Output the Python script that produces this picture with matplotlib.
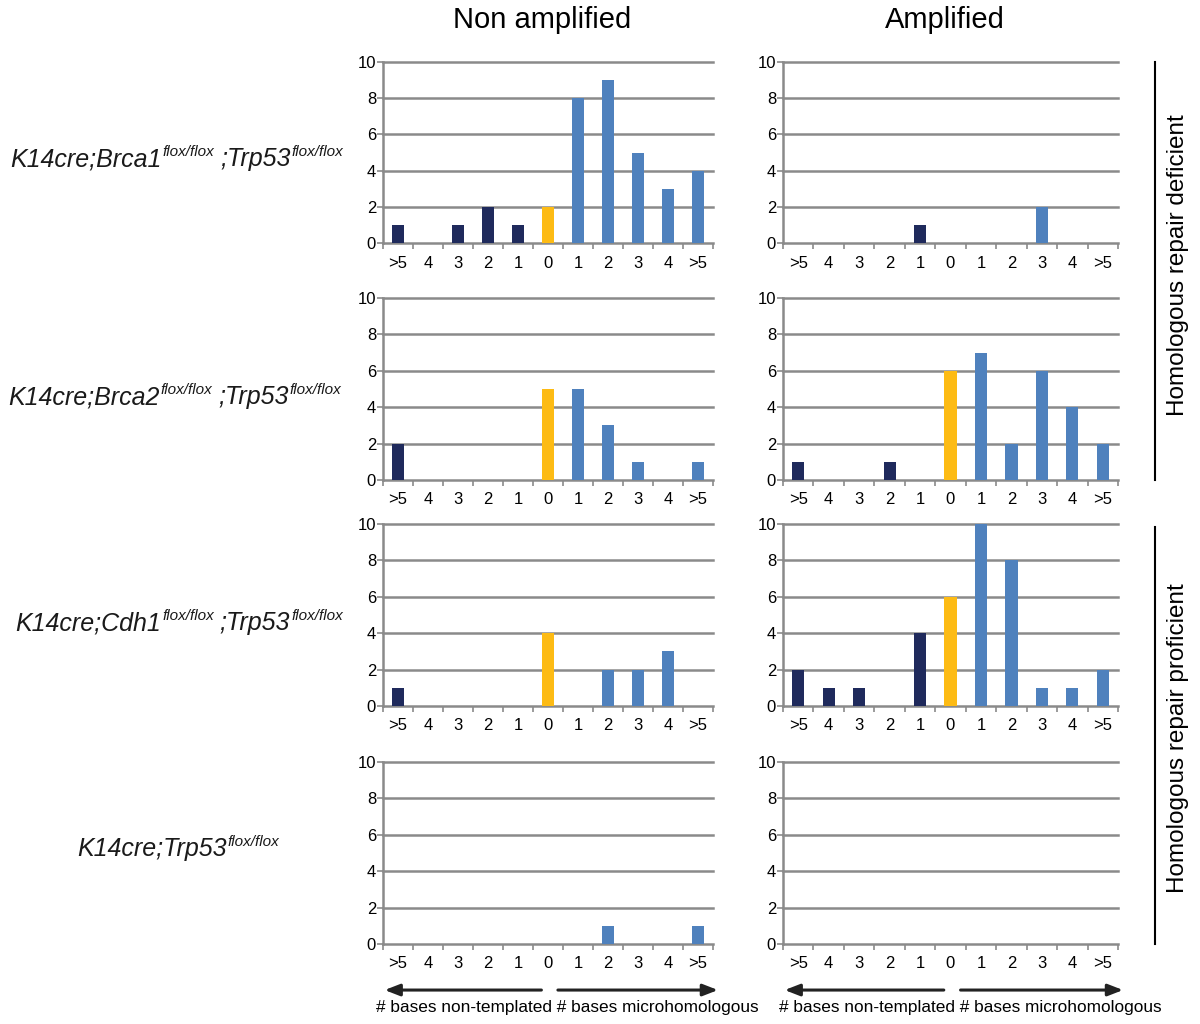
import matplotlib
matplotlib.use("Agg")
import matplotlib.pyplot as plt
from matplotlib.lines import Line2D
from matplotlib.text import Annotation
import numpy as np

plt.rcParams['font.family'] = ['Liberation Sans', 'DejaVu Sans']

categories = [">5", "4", "3", "2", "1", "0", "1", "2", "3", "4", ">5"]
cat_type = ["nt"] * 5 + ["zero"] + ["mh"] * 5

brca1_non = [1, 0, 1, 2, 1, 2, 8, 9, 5, 3, 4]
brca1_amp = [0, 0, 0, 0, 1, 0, 0, 0, 2, 0, 0]
brca2_non = [2, 0, 0, 0, 0, 5, 5, 3, 1, 0, 1]
brca2_amp = [1, 0, 0, 1, 0, 6, 7, 2, 6, 4, 2]
cdh1_non = [1, 0, 0, 0, 0, 4, 0, 2, 2, 3, 0]
cdh1_amp = [2, 1, 1, 0, 4, 6, 10, 8, 1, 1, 2]
trp53_non = [0, 0, 0, 0, 0, 0, 0, 1, 0, 0, 1]
trp53_amp = [0, 0, 0, 0, 0, 0, 0, 0, 0, 0, 0]

# Row labels as (text, is_superscript) pieces
row_labels = [
    [("K14cre;Brca1", False), ("flox/flox", True), (";Trp53", False), ("flox/flox", True)],
    [("K14cre;Brca2", False), ("flox/flox", True), (";Trp53", False), ("flox/flox", True)],
    [("K14cre;Cdh1", False), ("flox/flox", True), (";Trp53", False), ("flox/flox", True)],
    [("K14cre;Trp53", False), ("flox/flox", True)],
]
col_titles = ["Non amplified", "Amplified"]
group_labels = ["Homologous repair deficient", "Homologous repair proficient"]
yticks = [0, 2, 4, 6, 8, 10]

data = [[brca1_non, brca1_amp], [brca2_non, brca2_amp],
        [cdh1_non, cdh1_amp], [trp53_non, trp53_amp]]

colors = {"nt": "#1f2a5c", "zero": "#fdbb14", "mh": "#4f81bd"}
grid_c = "#8a8a8a"

W, H = 1200, 1024
fig = plt.figure(figsize=(W / 100, H / 100), dpi=100)

col_x = [(383, 713), (783, 1118)]
row_y = [(62, 243), (298, 480), (524, 706), (762, 944)]
label_y = [166, 404, 630, 856]   # baselines (px from top)
label_x = [10, 8, 15, 77]        # left edges (px)

x = np.arange(len(categories))
axes = {}
for r, (yt, yb) in enumerate(row_y):
    for c, (xl, xr) in enumerate(col_x):
        ax = fig.add_axes([xl / W, 1 - yb / H, (xr - xl) / W, (yb - yt) / H])
        axes[(r, c)] = ax
        vals = data[r][c]
        ax.bar(x, vals, width=0.4, color=[colors[t] for t in cat_type], zorder=3)
        ax.set_xlim(-0.5, len(categories) - 0.5)
        ax.set_ylim(0, 10)
        for v in yticks[1:]:
            ax.axhline(v, color=grid_c, lw=1.8, zorder=1, clip_on=False)
        for s in ["top", "right"]:
            ax.spines[s].set_visible(False)
        for s in ["left", "bottom"]:
            ax.spines[s].set_color(grid_c)
            ax.spines[s].set_linewidth(1.8)
        ax.set_yticks(yticks)
        ax.set_yticklabels([str(v) for v in yticks], fontsize=12)
        ax.tick_params(axis="y", length=4, width=1.2, color=grid_c, pad=1)
        ax.set_xticks(np.arange(len(categories) + 1) - 0.5)
        ax.set_xticklabels([])
        ax.set_xticks(x, minor=True)
        ax.set_xticklabels(categories, minor=True, fontsize=12)
        ax.tick_params(axis="x", which="major", length=4, width=1.2, color=grid_c)
        ax.tick_params(axis="x", which="minor", length=0, pad=9)
        ax.set_facecolor("none")

# Column titles
for c, t in enumerate(col_titles):
    xl, xr = col_x[c]
    fig.text(((xl + xr) / 2 - 6) / W, 1 - 20 / H, t, ha="center", va="center", fontsize=21)

# Row labels built from pieces
MAIN_FS, SUP_FS, RAISE = 18, 11, 9
for r, pieces in enumerate(row_labels):
    prev = None
    for txt, sup in pieces:
        fs = SUP_FS if sup else MAIN_FS
        if prev is None:
            art = fig.text(label_x[r] / W, 1 - label_y[r] / H, txt, ha="left",
                           va="baseline", fontsize=fs, fontstyle="italic", color="#1a1a1a")
        else:
            off = (1, RAISE) if sup else (4, -RAISE)
            art = Annotation(txt, xy=(1, 0), xycoords=prev, xytext=off,
                             textcoords="offset points", ha="left", va="bottom",
                             fontsize=fs, fontstyle="italic", color="#1a1a1a")
            fig.add_artist(art)
        prev = art

# Group lines and labels
groups = [(62, 480), (527, 944)]
label_shift = [-6, 3]
for (yt, yb), lab, sh in zip(groups, group_labels, label_shift):
    fig.add_artist(Line2D([1155 / W, 1155 / W], [1 - yt / H, 1 - yb / H],
                          color="black", lw=1.5, transform=fig.transFigure))
    fig.text(1178 / W, 1 - ((yt + yb) / 2 + sh) / H, lab, rotation=90, ha="center",
             va="center", fontsize=17.5)

# Bottom arrows and text
for c in range(2):
    ax = axes[(3, c)]
    ay = -0.253
    for x0, x1 in [(0.48, 0.005), (0.53, 1.015)]:
        ax.annotate("", xy=(x1, ay), xytext=(x0, ay), xycoords="axes fraction",
                    textcoords="axes fraction",
                    arrowprops=dict(arrowstyle="-|>,head_length=0.9,head_width=0.35",
                                    color="#222222", lw=2.2, shrinkA=0, shrinkB=0))
    ax.text(0.56, -0.35, "# bases non-templated # bases microhomologous",
            transform=ax.transAxes, ha="center", va="center", fontsize=12.4)

fig.savefig("out.png", dpi=100, facecolor="white")
